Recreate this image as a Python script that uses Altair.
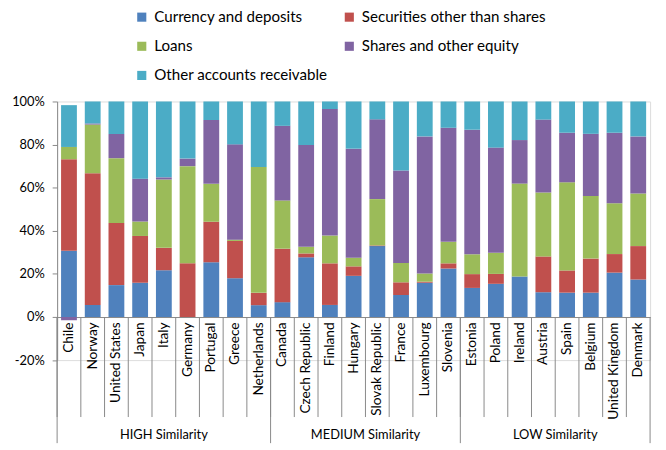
import altair as alt
import pandas as pd

countries = ["Chile", "Norway", "United States", "Japan", "Italy", "Germany", "Portugal", "Greece", "Netherlands",
             "Canada", "Czech Republic", "Finland", "Hungary", "Slovak Republic", "France", "Luxembourg", "Slovenia",
             "Estonia", "Poland", "Ireland", "Austria", "Spain", "Belgium", "United Kingdom", "Denmark"]
series = ["Currency and deposits", "Securities other than shares", "Loans",
          "Shares and other equity", "Other accounts receivable"]
colors = ["#4F81BD", "#C0504D", "#9BBB59", "#8064A2", "#4BACC6"]

currency = [30.7, 5.6, 14.8, 15.9, 21.7, 0.0, 25.4, 18.0, 5.5,
            6.9, 27.7, 5.6, 19.1, 32.9, 10.2, 15.9, 22.5,
            13.5, 15.4, 18.8, 11.5, 11.3, 11.3, 20.6, 17.4]
securities = [42.5, 61.1, 28.8, 21.7, 10.4, 24.9, 18.8, 17.3, 5.7,
              24.8, 1.8, 19.3, 4.4, 0.3, 5.9, 0.5, 2.4,
              6.4, 4.6, 0.0, 16.6, 10.3, 15.8, 8.6, 15.5]
loans = [5.7, 22.6, 30.1, 6.7, 31.7, 45.1, 17.6, 0.6, 58.4,
         22.4, 3.1, 12.9, 4.0, 21.5, 9.0, 3.8, 10.0,
         9.2, 9.8, 43.1, 29.7, 40.9, 29.0, 23.6, 24.4]
shares = [-1.5, 0.5, 11.2, 19.9, 1.0, 3.5, 29.6, 44.2, 0.0,
          34.6, 47.2, 58.7, 50.6, 37.0, 42.9, 63.6, 52.9,
          57.8, 48.8, 20.2, 33.8, 23.0, 28.9, 32.7, 26.5]
other = [19.4, 10.2, 15.1, 35.8, 35.2, 26.5, 8.6, 19.9, 30.4,
         11.3, 20.2, 3.5, 21.9, 8.3, 32.0, 16.2, 12.2,
         13.1, 21.4, 17.9, 8.4, 14.5, 15.0, 14.5, 16.2]

group_names = ["HIGH Similarity", "MEDIUM Similarity", "LOW Similarity"]
group_first = ["Chile", "Canada", "Estonia"]

FONT = "Lato"
AXIS_COLOR = "#898989"

rows = []
for s_i, (s, vals) in enumerate(zip(series, [currency, securities, loans, shares, other])):
    for c, v in zip(countries, vals):
        rows.append({"country": c, "series": s, "value": v / 100.0, "order": s_i})
df = pd.DataFrame(rows)

xscale = alt.Scale(domain=countries, paddingInner=1 / 3, paddingOuter=1 / 6)

bars = alt.Chart(df).mark_bar().encode(
    x=alt.X("country:N", sort=countries, scale=xscale,
            axis=alt.Axis(title=None, labelAngle=270, ticks=False,
                          offset=-43.6, labelPadding=5, labelFont=FONT, labelFontSize=13.8,
                          labelColor="#000000", domainColor=AXIS_COLOR, labelLimit=200)),
    y=alt.Y("value:Q", stack="zero",
            scale=alt.Scale(domain=[-0.2, 1.0], nice=False, zero=False),
            axis=alt.Axis(title=None, values=[-0.2, 0, 0.2, 0.4, 0.6, 0.8, 1.0],
                          labelExpr="(datum.value < 0 ? '-' : '') + format(abs(datum.value), '.0%')",
                          grid=False, tickSize=5, labelPadding=8, labelFont=FONT, labelFontSize=13,
                          labelColor="#000000", domainColor=AXIS_COLOR, tickColor=AXIS_COLOR)),
    color=alt.Color("series:N", scale=alt.Scale(domain=series, range=colors),
                    legend=alt.Legend(title=None, orient="none", legendX=78, legendY=-93,
                                      columns=2, direction="horizontal", columnPadding=14,
                                      rowPadding=13.5,
                                      symbolType="square", symbolSize=85, symbolStrokeWidth=0,
                                      symbolOpacity=1, labelFont=FONT, labelFontSize=15.3,
                                      labelColor="#000000", labelLimit=300, labelOffset=5,
                                      padding=0)),
    order=alt.Order("order:Q"),
)

# short separators between every category (Excel category ticks)
tick_df = pd.DataFrame({"country": countries})
ticks = alt.Chart(tick_df).mark_rule(color=AXIS_COLOR, xOffset=-4).encode(
    x=alt.X("country:N", sort=countries, bandPosition=0),
    y=alt.datum(0),
    y2=alt.value(319.3),
)

# long separators between groups
sep_df = pd.DataFrame({"country": group_first})
seps = alt.Chart(sep_df).mark_rule(color=AXIS_COLOR, xOffset=-4).encode(
    x=alt.X("country:N", sort=countries, bandPosition=0),
    y=alt.datum(0),
    y2=alt.value(345.7),
)
end_df = pd.DataFrame({"country": [countries[-1]]})
sep_end = alt.Chart(end_df).mark_rule(color=AXIS_COLOR, xOffset=4).encode(
    x=alt.X("country:N", sort=countries, bandPosition=1),
    y=alt.datum(0),
    y2=alt.value(345.7),
)

lab_high = alt.Chart(pd.DataFrame({"country": ["Italy"], "g": [group_names[0]]})).mark_text(
    font=FONT, fontSize=13, color="#000000", baseline="middle", align="center"
).encode(x=alt.X("country:N", sort=countries, bandPosition=0.5), y=alt.value(337.3), text="g:N")

lab_rest = alt.Chart(pd.DataFrame({"country": ["Slovak Republic", "Spain"], "g": group_names[1:]})).mark_text(
    font=FONT, fontSize=13, color="#000000", baseline="middle", align="center", xOffset=-4
).encode(x=alt.X("country:N", sort=countries, bandPosition=0), y=alt.value(337.3), text="g:N")

chart = alt.layer(bars, ticks, seps, sep_end, lab_high, lab_rest).properties(
    width=600, height=261.7,
    padding={"left": 49.7, "top": 92, "right": 8, "bottom": 84},
    autosize=alt.AutoSizeParams(type="none"),
).configure_view(stroke=None).configure(background="#ffffff")

chart.save("out.html", embed_options={"renderer": "svg", "actions": False})
